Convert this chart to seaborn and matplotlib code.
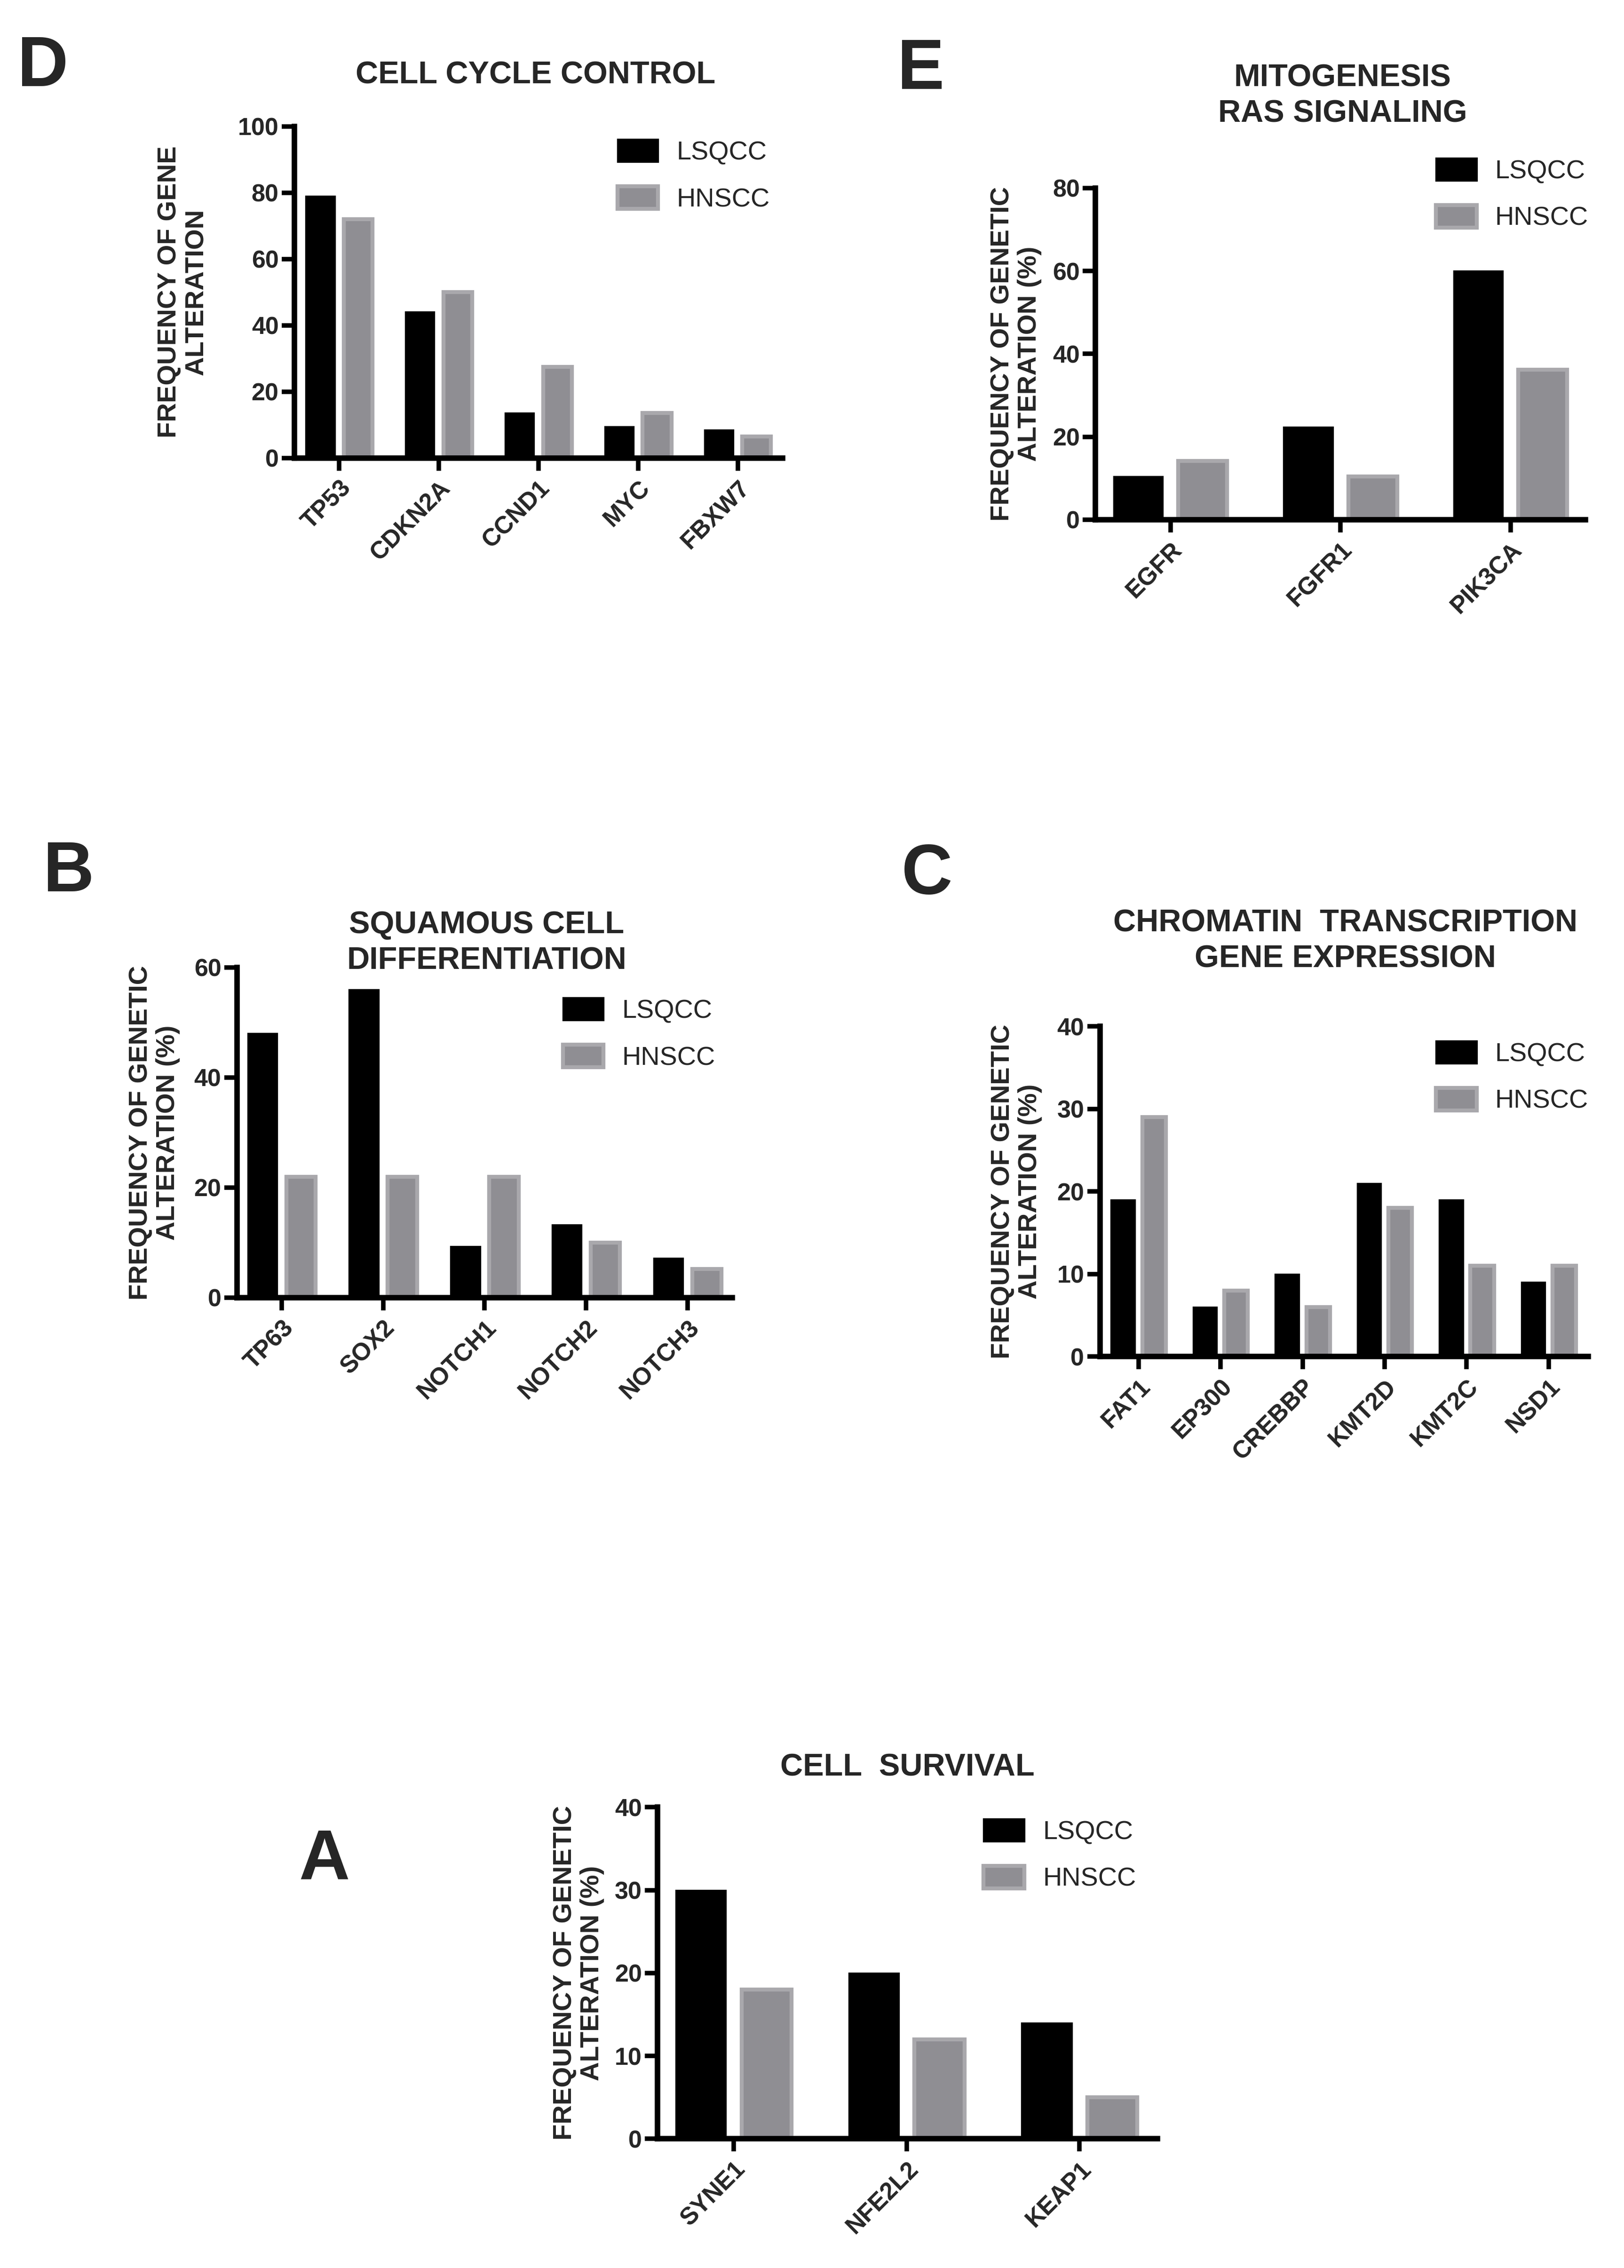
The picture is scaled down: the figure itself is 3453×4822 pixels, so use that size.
import pandas as pd
import matplotlib.pyplot as plt
from matplotlib.patches import Patch
import seaborn as sns

# --- data (% of samples with alteration) ---
cohorts = ['LSQCC', 'HNSCC']

genes_d = ['TP53', 'CDKN2A', 'CCND1', 'MYC', 'FBXW7']
lsqcc_d = [79, 44, 13.5, 9.5, 8.5]
hnscc_d = [72, 50, 27.5, 13.5, 6.5]

genes_e = ['EGFR', 'FGFR1', 'PIK3CA']
lsqcc_e = [10.4, 22.3, 60]
hnscc_e = [14.2, 10.4, 36.2]

genes_b = ['TP63', 'SOX2', 'NOTCH1', 'NOTCH2', 'NOTCH3']
lsqcc_b = [48, 56, 9.3, 13.2, 7.2]
hnscc_b = [22, 22, 22, 10, 5.2]

genes_c = ['FAT1', 'EP300', 'CREBBP', 'KMT2D', 'KMT2C', 'NSD1']
lsqcc_c = [19, 6, 10, 21, 19, 9]
hnscc_c = [29, 8, 6, 18, 11, 11]

genes_a = ['SYNE1', 'NFE2L2', 'KEAP1']
lsqcc_a = [30, 20, 14]
hnscc_a = [18, 12, 5]

BLACK = '#000000'
GREY = '#8f8e93'
GREY_EDGE = '#a9a8ac'
palette = {'LSQCC': BLACK, 'HNSCC': GREY}

sns.set_style('ticks')
plt.rcParams['font.family'] = ['Liberation Sans', 'DejaVu Sans']

# layout is measured on a 1131 x 1580 thumbnail of the page
W, H = 1131, 1580


def rect(l, t, r, b):
    return [l / W, 1 - b / H, (r - l) / W, (b - t) / H]


fig = plt.figure(figsize=(3453 / 300, 4822 / 300), dpi=300)


def draw(box, genes, lsqcc, hnscc, ymax, step, ylabel, lab_x, xlim, leg_xy):
    ax = fig.add_axes(rect(*box))
    df = pd.DataFrame({
        'gene': genes * 2,
        'cohort': ['LSQCC'] * len(genes) + ['HNSCC'] * len(genes),
        'freq': lsqcc + hnscc,
    })
    sns.barplot(data=df, x='gene', y='freq', hue='cohort', hue_order=cohorts,
                palette=palette, width=0.76, gap=0.24, saturation=1,
                errorbar=None, legend=False, ax=ax)
    for bar in ax.containers[0]:
        bar.set_edgecolor(BLACK)
        bar.set_linewidth(0.8)
    for bar in ax.containers[1]:
        bar.set_edgecolor(GREY_EDGE)
        bar.set_linewidth(2)

    ax.set_xlim(*xlim)
    ax.set_ylim(0, ymax)
    ax.set_yticks(range(0, ymax + 1, step))
    ax.set_yticklabels([str(v) for v in range(0, ymax + 1, step)], fontweight='bold')
    ax.set_xticks(range(len(genes)))
    ax.set_xticklabels(genes, rotation=45, ha='right', rotation_mode='anchor',
                       fontweight='bold')
    ax.tick_params(axis='both', direction='out', length=6.5, width=2.3,
                   labelsize=12.5, color='black')
    ax.tick_params(axis='y', pad=1.5)
    ax.tick_params(axis='x', pad=3)
    for s in ['top', 'right']:
        ax.spines[s].set_visible(False)
    for s in ['left', 'bottom']:
        ax.spines[s].set_linewidth(2.8)
        ax.spines[s].set_color('black')

    ax.set_xlabel('')
    ax.set_ylabel(ylabel, fontsize=13.5, fontweight='bold', linespacing=1.15)
    ax.yaxis.set_label_coords(lab_x, 0.5)

    handles = [Patch(facecolor=BLACK, edgecolor=BLACK, linewidth=0.8),
               Patch(facecolor=GREY, edgecolor=GREY_EDGE, linewidth=2)]
    ax.legend(handles, cohorts, loc='upper left',
              bbox_to_anchor=(leg_xy[0] / W, 1 - leg_xy[1] / H),
              bbox_transform=fig.transFigure, frameon=False, fontsize=13.4,
              handlelength=1.55, handleheight=0.95, handletextpad=0.7,
              labelspacing=0.8, borderpad=0, borderaxespad=0)
    return ax


ylab_gene = 'FREQUENCY OF GENE\nALTERATION'
ylab_genetic = 'FREQUENCY OF GENETIC\nALTERATION (%)'

draw((205, 88, 545, 319), genes_d, lsqcc_d, hnscc_d, 100, 20, ylab_gene,
     -0.175, (-0.45, 4.45), (430, 97))
draw((763, 131, 1104, 362), genes_e, lsqcc_e, hnscc_e, 80, 20, ylab_genetic,
     -0.11, (-0.44, 2.44), (1000, 110))
draw((165, 674, 510, 904), genes_b, lsqcc_b, hnscc_b, 60, 20, ylab_genetic,
     -0.115, (-0.44, 4.44), (392, 695))
draw((766, 715, 1106, 945), genes_c, lsqcc_c, hnscc_c, 40, 10, ylab_genetic,
     -0.118, (-0.47, 5.48), (1000, 725))
draw((458, 1259, 806, 1490), genes_a, lsqcc_a, hnscc_a, 40, 10, ylab_genetic,
     -0.107, (-0.44, 2.45), (685, 1267))

# panel titles (baseline of the last line)
titles = [
    ('CELL CYCLE CONTROL', 373, 58),
    ('MITOGENESIS\nRAS SIGNALING', 935, 85),
    ('SQUAMOUS CELL\nDIFFERENTIATION', 339, 675),
    ('CHROMATIN  TRANSCRIPTION\nGENE EXPRESSION', 937, 674),
    ('CELL  SURVIVAL', 632, 1237),
]
for txt, x, y in titles:
    fig.text(x / W, 1 - y / H, txt, ha='center', va='baseline',
             fontsize=16, fontweight='bold', linespacing=1.3)

# panel letters
letters = [('D', 12, 60), ('E', 625, 62), ('B', 30, 621), ('C', 628, 623), ('A', 208, 1309)]
for txt, x, y in letters:
    fig.text(x / W, 1 - y / H, txt, ha='left', va='baseline',
             fontsize=36, fontweight='bold')

fig.savefig('out.png', dpi=300)
